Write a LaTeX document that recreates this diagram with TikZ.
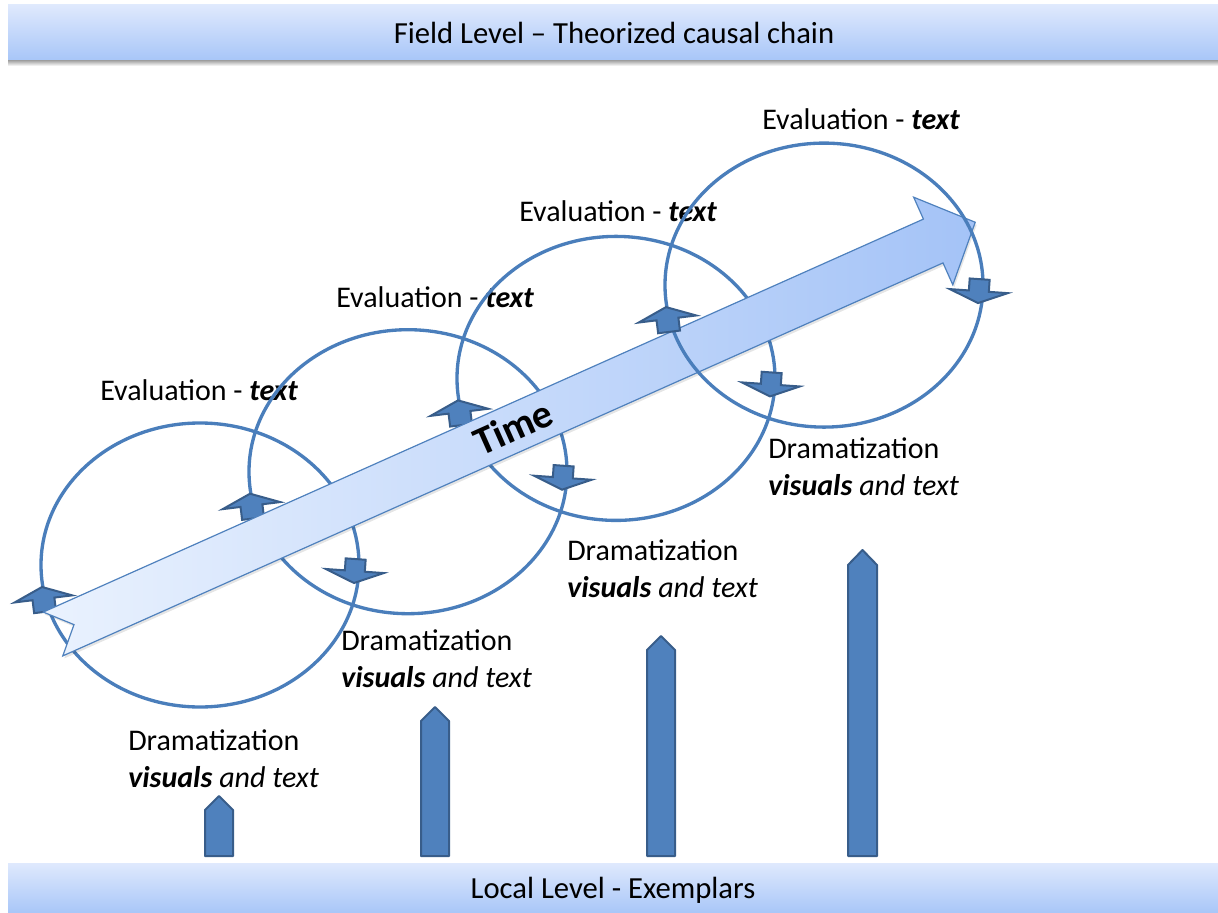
\documentclass[tikz,border=0pt]{standalone}
\usepackage{fontspec}
\setmainfont{Carlito}
\definecolor{linec}{HTML}{4A7EBB}
\definecolor{ahfill}{HTML}{4F81BD}
\definecolor{ahdraw}{HTML}{385D8A}
\definecolor{bartop}{HTML}{DFE9FD}
\definecolor{barbot}{HTML}{A8C6F8}
\definecolor{arrL}{HTML}{EAF2FE}
\definecolor{arrR}{HTML}{A4C3F7}
\definecolor{arrline}{HTML}{4F81BD}
\tikzset{
  loop/.style={draw=linec, line width=2.5pt},
  ahead/.style={fill=ahfill, draw=ahdraw, line width=1.5pt, line join=miter},
  upah/.pic={\path[ahead] (0,0) -- (29,12) -- (11,12) -- (11,25) -- (-11,25) -- (-11,12) -- (-29,12) -- cycle;},
  downah/.pic={\path[ahead] (0,0) -- (29,-12) -- (10,-12) -- (10,-24) -- (-10,-24) -- (-10,-12) -- (-29,-12) -- cycle;},
  lbl/.style={font=\fontsize{22.5}{27.75}\selectfont, inner sep=0pt, anchor=west, align=left},
  bartext/.style={font=\fontsize{23}{28}\selectfont, inner sep=0pt},
  pent/.style={fill=ahfill, draw=ahdraw, line width=1.5pt, line join=round},
  levelbar/.style={top color=bartop, bottom color=barbot},
}
\begin{document}
\begin{tikzpicture}[x=0.75pt, y=-0.75pt]
\useasboundingbox (0,0) rectangle (1218,913);
% level bars
\shade[top color=black!45, bottom color=white] (8,59) rectangle (1218,66);
\shade[levelbar] (8,5) rectangle (1218,60);
\node[bartext] (field) at (614,33) {Field Level – Theorized causal chain};
\shade[levelbar] (8,863) rectangle (1218,913);
\node[bartext] (local) at (613,890) {Local Level - Exemplars};
% labels
\node[lbl] (e1) at (100,390) {Evaluation - \textbf{\textit{text}}};
\node[lbl] (e2) at (336,297) {Evaluation - \textbf{\textit{text}}};
\node[lbl] (e3) at (519,211) {Evaluation - \textbf{\textit{text}}};
\node[lbl] (e4) at (762,119) {Evaluation - \textbf{\textit{text}}};
\node[lbl] (d1) at (128,758.5) {Dramatization\\\textbf{\textit{visuals}} \textit{and text}};
\node[lbl] (d2) at (341,658.5) {Dramatization\\\textbf{\textit{visuals}} \textit{and text}};
\node[lbl] (d3) at (567,568.5) {Dramatization\\\textbf{\textit{visuals}} \textit{and text}};
\node[lbl] (d4) at (768,466.5) {Dramatization\\\textbf{\textit{visuals}} \textit{and text}};
% cycles 1-3 (behind the time arrow)
\draw[loop] (200,565) ellipse [x radius=119.25pt, y radius=106.5pt];
\draw[loop] (408,471.7) ellipse [x radius=119.25pt, y radius=106.5pt];
\draw[loop] (616,378.4) ellipse [x radius=119.25pt, y radius=106.5pt];
\pic[rotate=7] at (42,587) {upah};
\pic[rotate=-4] at (354,583) {downah};
\pic[rotate=7] at (250,493.7) {upah};
\pic[rotate=-4] at (562,489.7) {downah};
\pic[rotate=7] at (458,400.4) {upah};
\pic[rotate=-4] at (770,396.4) {downah};
% time arrow
\begin{scope}[shift={(54.5,636.5)}, rotate=24.06]
  \fill[black, opacity=0.10] (0,-24) -- (964,-24) -- (964,-48) -- (1010,0) -- (964,48) -- (964,24) -- (0,24) -- (23,0) -- cycle;
\end{scope}
\begin{scope}[shift={(53,634)}, rotate=24.06]
  \shade[left color=arrL, right color=arrR, draw=arrline, line width=0.9pt]
    (0,-24) -- (964,-24) -- (964,-48) -- (1010,0) -- (964,48) -- (964,24) -- (0,24) -- (23,0) -- cycle;
\end{scope}
\node[rotate=24.06, font=\fontsize{30}{36}\selectfont\bfseries, inner sep=0pt] (time) at (513,427) {Time};
% cycle 4 (in front of the time arrow)
\draw[loop] (824,285.1) ellipse [x radius=119.25pt, y radius=106.5pt];
\pic[rotate=7] at (666,307.1) {upah};
\pic[rotate=-4] at (978,303.1) {downah};
% exemplar bars
\draw[pent] (205,856) -- (205,810) -- (219,796) -- (233,810) -- (233,856) -- cycle;
\draw[pent] (421,856) -- (421,721) -- (435,707) -- (449,721) -- (449,856) -- cycle;
\draw[pent] (647,856) -- (647,650) -- (661,636) -- (675,650) -- (675,856) -- cycle;
\draw[pent] (848,856) -- (848,565) -- (862.5,550) -- (877,565) -- (877,856) -- cycle;
\end{tikzpicture}
\end{document}
